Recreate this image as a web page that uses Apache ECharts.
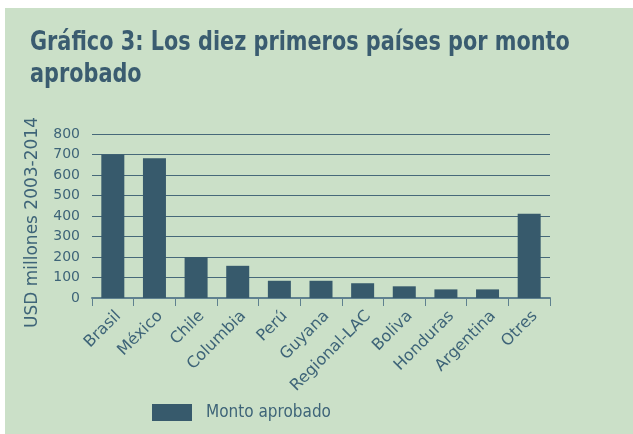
<!DOCTYPE html>
<html>
<head>
<meta charset="utf-8">
<script src="https://cdn.jsdelivr.net/npm/echarts@6/dist/echarts.min.js"></script>
<style>
	html, body { margin: 0; padding: 0; background: #fff; }
	#chart { position: absolute; left: 5px; top: 8px; width: 628px; height: 426px; }
</style>
</head>
<body>
<div id="chart"></div>
<script>
	const paises = ['Brasil', 'México', 'Chile', 'Columbia', 'Perú', 'Guyana', 'Regional-LAC', 'Boliva', 'Honduras', 'Argentina', 'Otres'];
	const montoAprobado = [700, 682, 200, 157, 84, 84, 72, 57, 42, 42, 411];
	const yTicks = [0, 100, 200, 300, 400, 500, 600, 700, 800];

	const azul = '#375a6c';
	const texto = '#3e6478';

	var chart = echarts.init(document.getElementById('chart'));

	option = {
		backgroundColor: '#cbe0c8',
		// titulo condensado: texto real escalado en horizontal
		graphic: [{
			type: 'text',
			x: 25,
			y: 19,
			scaleX: 0.89,
			style: {
				text: 'Gráfico 3: Los diez primeros países por monto\naprobado',
				fill: '#3a5c70',
				font: 'bold 26px "DejaVu Sans Condensed"',
				lineHeight: 32,
				verticalAlign: 'top'
			}
		}],
		legend: {
			data: ['Monto aprobado'],
			icon: 'rect',
			left: 147,
			top: 396,
			padding: 0,
			itemWidth: 40,
			itemHeight: 17,
			textStyle: {
				color: texto,
				fontFamily: 'DejaVu Sans Condensed',
				fontSize: 17,
				padding: [0, 0, 0, 9]
			}
		},
		grid: {
			left: 87,
			right: 83,
			top: 126,
			bottom: 136,
			containLabel: false
		},
		xAxis: {
			type: 'category',
			data: paises,
			axisLine: {
				lineStyle: { color: '#5f818f', width: 2 }
			},
			axisTick: {
				show: true,
				length: 8,
				lineStyle: { color: '#5f818f', width: 1 }
			},
			axisLabel: {
				rotate: 45,
				interval: 0,
				margin: 10,
				verticalAlign: 'top',
				color: texto,
				fontFamily: 'DejaVu Sans',
				fontSize: 16
			}
		},
		yAxis: {
			type: 'value',
			min: yTicks[0],
			max: yTicks[yTicks.length - 1],
			interval: 100,
			name: 'USD millones 2003-2014',
			nameLocation: 'middle',
			nameGap: 51,
			nameRotate: 90,
			nameTextStyle: {
				color: texto,
				fontFamily: 'DejaVu Sans',
				fontSize: 17,
				padding: [0, 13, 0, 0]
			},
			axisLine: { show: false },
			axisTick: { show: false },
			axisLabel: {
				color: texto,
				fontFamily: 'DejaVu Sans',
				fontSize: 14,
				margin: 12
			},
			splitLine: {
				show: true,
				lineStyle: { color: '#47697a', width: 1 }
			}
		},
		series: [{
			name: 'Monto aprobado',
			type: 'bar',
			data: montoAprobado,
			barWidth: 23,
			itemStyle: { color: azul }
		}]
	};

	chart.setOption(option);

	window.onresize = function() {
		chart.resize();
	}
</script>
</body>
</html>
